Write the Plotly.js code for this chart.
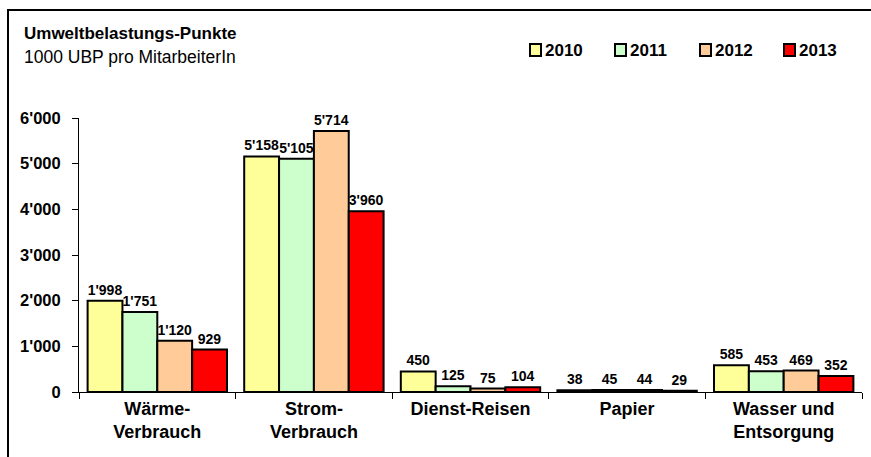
<!DOCTYPE html>
<html>
<head>
<meta charset="utf-8">
<script src="https://cdn.plot.ly/plotly-3.0.1.min.js"></script>
<style>
html,body{margin:0;padding:0;background:#fff;}
#chart{width:871px;height:457px;}
</style>
</head>
<body>
<div id="chart"></div>
<script>
const categories = ["Wärme-<br>Verbrauch", "Strom-<br>Verbrauch", "Dienst-Reisen", "Papier", "Wasser und<br>Entsorgung"];
const years = ["2010", "2011", "2012", "2013"];
const colors = ["#FFFF99", "#CCFFCC", "#FFCC99", "#FF0000"];
const v2010 = [1998, 5158, 450, 38, 585];
const v2011 = [1751, 5105, 125, 45, 453];
const v2012 = [1120, 5714, 75, 44, 469];
const v2013 = [929, 3960, 104, 29, 352];
const yTicks = [0, 1000, 2000, 3000, 4000, 5000, 6000];
const titleText = "Umweltbelastungs-Punkte";
const subtitleText = "1000 UBP pro MitarbeiterIn";

const series = [v2010, v2011, v2012, v2013];
const FONT = "Liberation Sans, Arial, sans-serif";

// plot area in pixels
const L = 79, R = 862, T = 118, B = 392;
const px = x => (x - L) / (R - L);
const py = y => (B - y) / (B - T);

const traces = series.map((vals, i) => ({
  type: "bar",
  name: years[i],
  x: categories,
  y: vals,
  marker: {color: colors[i], line: {color: "#000", width: 2}},
  text: vals,
  texttemplate: "%{y:,}",
  textposition: "outside",
  textfont: {family: FONT, size: 14, color: "#000", weight: "bold"},
  constraintext: "none",
  cliponaxis: false,
  hoverinfo: "skip",
  showlegend: false
}));

const shapes = [{
  type: "rect", xref: "paper", yref: "paper",
  x0: px(8), x1: px(900), y0: py(500), y1: py(10),
  line: {color: "#000", width: 2}, fillcolor: "rgba(0,0,0,0)", layer: "below"
}];
const annotations = [
  {xref: "paper", yref: "paper", x: px(22), y: py(34), xanchor: "left", yanchor: "middle",
   text: "<b>" + titleText + "</b>", showarrow: false, font: {family: FONT, size: 17, color: "#000"}},
  {xref: "paper", yref: "paper", x: px(22), y: py(57), xanchor: "left", yanchor: "middle",
   text: subtitleText, showarrow: false, font: {family: FONT, size: 17.5, color: "#000"}}
];
const legX = [530, 615, 700, 784];
years.forEach((yr, i) => {
  shapes.push({type: "rect", xref: "paper", yref: "paper",
    x0: px(legX[i]), x1: px(legX[i] + 11), y0: py(56), y1: py(44),
    fillcolor: colors[i], line: {color: "#000", width: 2}});
  annotations.push({xref: "paper", yref: "paper", x: px(legX[i] + 13), y: py(50),
    xanchor: "left", yanchor: "middle", showarrow: false, text: "<b>" + yr + "</b>",
    font: {family: FONT, size: 17, color: "#000"}});
});

const layout = {
  width: 871, height: 457,
  margin: {l: L, r: 871 - R, t: T, b: 457 - B, pad: 0},
  paper_bgcolor: "#fff", plot_bgcolor: "#fff",
  separators: ".'",
  barmode: "group", bargap: 0.11, bargroupgap: 0,
  showlegend: false,
  font: {family: FONT, color: "#000"},
  xaxis: {
    type: "category", showline: true, linecolor: "#000", linewidth: 1,
    ticks: "outside", tickson: "boundaries", ticklen: 6, tickcolor: "#000",
    tickfont: {family: FONT, size: 18, weight: "bold", color: "#000"},
    showgrid: false, zeroline: false, fixedrange: true
  },
  yaxis: {
    range: [0, 6000], tickvals: yTicks, tickformat: ",",
    showline: true, linecolor: "#000", linewidth: 1,
    ticks: "outside", ticklen: 6, tickcolor: "#000", ticklabelstandoff: 8,
    tickfont: {family: FONT, size: 16.5, weight: "bold", color: "#000"},
    showgrid: false, zeroline: false, fixedrange: true
  },
  shapes: shapes,
  annotations: annotations
};

Plotly.newPlot("chart", traces, layout, {displayModeBar: false, staticPlot: true});
</script>
</body>
</html>
